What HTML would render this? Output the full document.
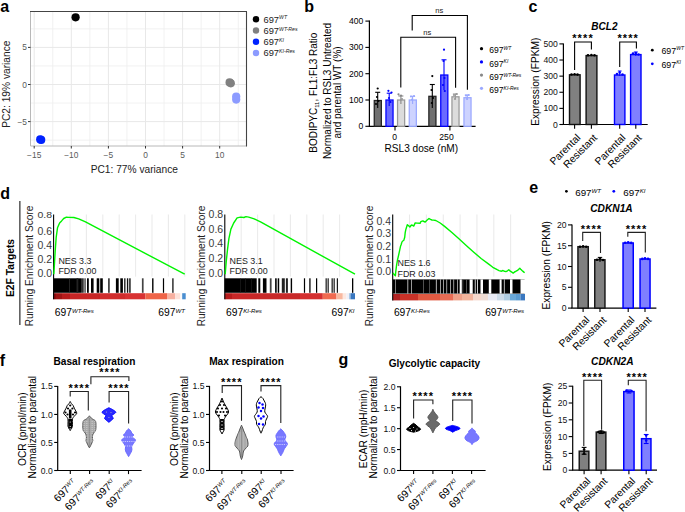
<!DOCTYPE html>
<html><head><meta charset="utf-8"><style>
html,body{margin:0;padding:0;background:#fff;}
body{width:685px;height:512px;overflow:hidden;}
svg{display:block;font-family:"Liberation Sans", sans-serif;}
</style></head><body>
<svg width="685" height="512" viewBox="0 0 685 512">
<text x="0.3" y="11.5" font-size="16" text-anchor="start" font-weight="bold" fill="#000">a</text>
<text x="304.3" y="11.5" font-size="16" text-anchor="start" font-weight="bold" fill="#000">b</text>
<text x="528.5" y="11.5" font-size="16" text-anchor="start" font-weight="bold" fill="#000">c</text>
<text x="0.3" y="198.8" font-size="16" text-anchor="start" font-weight="bold" fill="#000">d</text>
<text x="529.3" y="192.6" font-size="16" text-anchor="start" font-weight="bold" fill="#000">e</text>
<text x="-0.2" y="366.4" font-size="16" text-anchor="start" font-weight="bold" fill="#000">f</text>
<text x="338.5" y="365.2" font-size="16" text-anchor="start" font-weight="bold" fill="#000">g</text>
<line x1="52.75" y1="11.5" x2="52.75" y2="146.0" stroke="#eeeeee" stroke-width="0.8"/>
<line x1="89.85" y1="11.5" x2="89.85" y2="146.0" stroke="#eeeeee" stroke-width="0.8"/>
<line x1="126.95" y1="11.5" x2="126.95" y2="146.0" stroke="#eeeeee" stroke-width="0.8"/>
<line x1="164.05" y1="11.5" x2="164.05" y2="146.0" stroke="#eeeeee" stroke-width="0.8"/>
<line x1="201.15" y1="11.5" x2="201.15" y2="146.0" stroke="#eeeeee" stroke-width="0.8"/>
<line x1="238.25" y1="11.5" x2="238.25" y2="146.0" stroke="#eeeeee" stroke-width="0.8"/>
<line x1="30.5" y1="140.15" x2="246.5" y2="140.15" stroke="#eeeeee" stroke-width="0.8"/>
<line x1="30.5" y1="103.05" x2="246.5" y2="103.05" stroke="#eeeeee" stroke-width="0.8"/>
<line x1="30.5" y1="65.95" x2="246.5" y2="65.95" stroke="#eeeeee" stroke-width="0.8"/>
<line x1="30.5" y1="28.85" x2="246.5" y2="28.85" stroke="#eeeeee" stroke-width="0.8"/>
<line x1="34.2" y1="11.5" x2="34.2" y2="146.0" stroke="#e8e8e8" stroke-width="1"/>
<line x1="71.3" y1="11.5" x2="71.3" y2="146.0" stroke="#e8e8e8" stroke-width="1"/>
<line x1="108.4" y1="11.5" x2="108.4" y2="146.0" stroke="#e8e8e8" stroke-width="1"/>
<line x1="145.5" y1="11.5" x2="145.5" y2="146.0" stroke="#e8e8e8" stroke-width="1"/>
<line x1="182.6" y1="11.5" x2="182.6" y2="146.0" stroke="#e8e8e8" stroke-width="1"/>
<line x1="219.7" y1="11.5" x2="219.7" y2="146.0" stroke="#e8e8e8" stroke-width="1"/>
<line x1="30.5" y1="121.6" x2="246.5" y2="121.6" stroke="#e8e8e8" stroke-width="1"/>
<line x1="30.5" y1="84.5" x2="246.5" y2="84.5" stroke="#e8e8e8" stroke-width="1"/>
<line x1="30.5" y1="47.4" x2="246.5" y2="47.4" stroke="#e8e8e8" stroke-width="1"/>
<line x1="30.5" y1="11.5" x2="30.5" y2="146.0" stroke="#b8b8b8" stroke-width="1"/>
<line x1="30.5" y1="146.0" x2="246.5" y2="146.0" stroke="#b8b8b8" stroke-width="1"/>
<line x1="30.0" y1="11.5" x2="247.0" y2="11.5" stroke="#444" stroke-width="1.1"/>
<line x1="246.5" y1="11.5" x2="246.5" y2="146.5" stroke="#444" stroke-width="1.1"/>
<line x1="34.2" y1="146.0" x2="34.2" y2="148.5" stroke="#333" stroke-width="1"/>
<text x="34.2" y="158.2" font-size="8.4" text-anchor="middle" fill="#5a5a5a">−15</text>
<line x1="71.3" y1="146.0" x2="71.3" y2="148.5" stroke="#333" stroke-width="1"/>
<text x="71.3" y="158.2" font-size="8.4" text-anchor="middle" fill="#5a5a5a">−10</text>
<line x1="108.4" y1="146.0" x2="108.4" y2="148.5" stroke="#333" stroke-width="1"/>
<text x="108.4" y="158.2" font-size="8.4" text-anchor="middle" fill="#5a5a5a">−5</text>
<line x1="145.5" y1="146.0" x2="145.5" y2="148.5" stroke="#333" stroke-width="1"/>
<text x="145.5" y="158.2" font-size="8.4" text-anchor="middle" fill="#5a5a5a">0</text>
<line x1="182.6" y1="146.0" x2="182.6" y2="148.5" stroke="#333" stroke-width="1"/>
<text x="182.6" y="158.2" font-size="8.4" text-anchor="middle" fill="#5a5a5a">5</text>
<line x1="219.7" y1="146.0" x2="219.7" y2="148.5" stroke="#333" stroke-width="1"/>
<text x="219.7" y="158.2" font-size="8.4" text-anchor="middle" fill="#5a5a5a">10</text>
<line x1="28.0" y1="121.6" x2="30.5" y2="121.6" stroke="#333" stroke-width="1"/>
<text x="27.0" y="124.6" font-size="8.4" text-anchor="end" fill="#5a5a5a">−5</text>
<line x1="28.0" y1="84.5" x2="30.5" y2="84.5" stroke="#333" stroke-width="1"/>
<text x="27.0" y="87.5" font-size="8.4" text-anchor="end" fill="#5a5a5a">0</text>
<line x1="28.0" y1="47.4" x2="30.5" y2="47.4" stroke="#333" stroke-width="1"/>
<text x="27.0" y="50.4" font-size="8.4" text-anchor="end" fill="#5a5a5a">5</text>
<text x="134.3" y="172.6" font-size="10.2" text-anchor="middle" fill="#222">PC1: 77% variance</text>
<text x="10.2" y="84.2" font-size="10.2" text-anchor="middle" fill="#222" transform="rotate(-90 10.2 84.2)">PC2: 19% variance</text>
<circle cx="75.6" cy="17.3" r="4.1" fill="#000"/>
<circle cx="229.6" cy="82.4" r="4.1" fill="#808080"/>
<circle cx="230.8" cy="83.3" r="4.1" fill="#808080"/>
<circle cx="40.2" cy="139.4" r="4.1" fill="#0022ff"/>
<circle cx="41.2" cy="139.9" r="4.1" fill="#0022ff"/>
<circle cx="236.2" cy="96.5" r="4.1" fill="#8c9bff"/>
<circle cx="236.2" cy="99.6" r="4.1" fill="#8c9bff"/>
<circle cx="256" cy="19.3" r="3.2" fill="#000"/>
<text x="263.5" y="22.6" font-size="9.3" text-anchor="start" fill="#1a1a1a">697<tspan font-size="5.2" font-style="italic" dy="-3.20">WT</tspan></text>
<circle cx="256" cy="30.55" r="3.2" fill="#808080"/>
<text x="263.5" y="33.85" font-size="9.3" text-anchor="start" fill="#1a1a1a">697<tspan font-size="5.2" font-style="italic" dy="-3.20">WT-Res</tspan></text>
<circle cx="256" cy="41.8" r="3.2" fill="#0022ff"/>
<text x="263.5" y="45.099999999999994" font-size="9.3" text-anchor="start" fill="#1a1a1a">697<tspan font-size="5.2" font-style="italic" dy="-3.20">KI</tspan></text>
<circle cx="256" cy="53.05" r="3.2" fill="#8c9bff"/>
<text x="263.5" y="56.349999999999994" font-size="9.3" text-anchor="start" fill="#1a1a1a">697<tspan font-size="5.2" font-style="italic" dy="-3.20">KI-Res</tspan></text>
<line x1="369.4" y1="20.599999999999994" x2="369.4" y2="126.3" stroke="#000" stroke-width="1.2"/>
<line x1="368.79999999999995" y1="126.3" x2="475.6" y2="126.3" stroke="#000" stroke-width="1.2"/>
<line x1="365.4" y1="126.3" x2="369.4" y2="126.3" stroke="#000" stroke-width="1.1"/>
<text x="363.4" y="129.3" font-size="8.6" text-anchor="end" fill="#000">0</text>
<line x1="365.4" y1="100.0" x2="369.4" y2="100.0" stroke="#000" stroke-width="1.1"/>
<text x="363.4" y="103.0" font-size="8.6" text-anchor="end" fill="#000">100</text>
<line x1="365.4" y1="73.69999999999999" x2="369.4" y2="73.69999999999999" stroke="#000" stroke-width="1.1"/>
<text x="363.4" y="76.69999999999999" font-size="8.6" text-anchor="end" fill="#000">200</text>
<line x1="365.4" y1="47.39999999999999" x2="369.4" y2="47.39999999999999" stroke="#000" stroke-width="1.1"/>
<text x="363.4" y="50.39999999999999" font-size="8.6" text-anchor="end" fill="#000">300</text>
<line x1="365.4" y1="21.099999999999994" x2="369.4" y2="21.099999999999994" stroke="#000" stroke-width="1.1"/>
<text x="363.4" y="24.099999999999994" font-size="8.6" text-anchor="end" fill="#000">400</text>
<line x1="395" y1="126.3" x2="395" y2="130.5" stroke="#000" stroke-width="1.1"/>
<line x1="449.9" y1="126.3" x2="449.9" y2="130.5" stroke="#000" stroke-width="1.1"/>
<text x="394.6" y="139.8" font-size="8.6" text-anchor="middle" fill="#000">0</text>
<text x="446.5" y="139.8" font-size="8.6" text-anchor="middle" fill="#000">250</text>
<text x="421.3" y="152.4" font-size="10.1" text-anchor="middle" fill="#000">RSL3 dose (nM)</text>
<text x="316.9" y="92.7" font-size="10" text-anchor="middle" fill="#000" transform="rotate(-90 316.9 92.7)">BODIPYC<tspan font-size="6" dy="2">11</tspan><tspan dy="-2">, FL1:FL3 Ratio</tspan></text>
<text x="330.7" y="91.0" font-size="10" text-anchor="middle" fill="#000" transform="rotate(-90 330.7 91.0)">Normalized to RSL3 Untreated</text>
<text x="340.7" y="92.4" font-size="10" text-anchor="middle" fill="#000" transform="rotate(-90 340.7 92.4)">and parental WT (%)</text>
<rect x="374.25" y="100.5" width="7.1" height="25.799999999999997" fill="#707070" stroke="#222" stroke-width="1.25"/>
<rect x="385.95" y="100.0" width="7.1" height="26.299999999999997" fill="#6b6bff" stroke="#0000ff" stroke-width="1.25"/>
<rect x="397.55" y="100.0" width="7.1" height="26.299999999999997" fill="#dcdcdc" stroke="#999" stroke-width="1.25"/>
<rect x="409.25" y="100.0" width="7.1" height="26.299999999999997" fill="#cdd3ff" stroke="#9aa8ff" stroke-width="1.25"/>
<rect x="428.85" y="96.3" width="7.1" height="30.0" fill="#707070" stroke="#222" stroke-width="1.25"/>
<rect x="440.75" y="75.0" width="7.1" height="51.3" fill="#6b6bff" stroke="#0000ff" stroke-width="1.25"/>
<rect x="451.95" y="96.8" width="7.1" height="29.5" fill="#dcdcdc" stroke="#999" stroke-width="1.25"/>
<rect x="463.95" y="97.7" width="7.1" height="28.599999999999994" fill="#cdd3ff" stroke="#9aa8ff" stroke-width="1.25"/>
<line x1="377.7" y1="92.3" x2="377.7" y2="108" stroke="#000" stroke-width="1.1"/>
<line x1="375.2" y1="92.3" x2="380.2" y2="92.3" stroke="#000" stroke-width="1.1"/>
<line x1="389.2" y1="93.2" x2="389.2" y2="106" stroke="#0000ff" stroke-width="1.1"/>
<line x1="386.7" y1="93.2" x2="391.7" y2="93.2" stroke="#0000ff" stroke-width="1.1"/>
<line x1="400.9" y1="96.0" x2="400.9" y2="104" stroke="#888" stroke-width="1.1"/>
<line x1="398.4" y1="96.0" x2="403.4" y2="96.0" stroke="#888" stroke-width="1.1"/>
<line x1="412.6" y1="96.3" x2="412.6" y2="104" stroke="#9aa8ff" stroke-width="1.1"/>
<line x1="410.1" y1="96.3" x2="415.1" y2="96.3" stroke="#9aa8ff" stroke-width="1.1"/>
<line x1="432.3" y1="84.5" x2="432.3" y2="108" stroke="#000" stroke-width="1.1"/>
<line x1="429.8" y1="84.5" x2="434.8" y2="84.5" stroke="#000" stroke-width="1.1"/>
<line x1="444.0" y1="59.8" x2="444.0" y2="90" stroke="#0000ff" stroke-width="1.1"/>
<line x1="441.5" y1="59.8" x2="446.5" y2="59.8" stroke="#0000ff" stroke-width="1.1"/>
<line x1="455.4" y1="94.0" x2="455.4" y2="99" stroke="#999" stroke-width="1.1"/>
<line x1="452.9" y1="94.0" x2="457.9" y2="94.0" stroke="#999" stroke-width="1.1"/>
<line x1="467.3" y1="95.0" x2="467.3" y2="100" stroke="#9aa8ff" stroke-width="1.1"/>
<line x1="464.8" y1="95.0" x2="469.8" y2="95.0" stroke="#9aa8ff" stroke-width="1.1"/>
<circle cx="377.7" cy="88.5" r="1.1" fill="#000"/>
<circle cx="377" cy="97" r="1.1" fill="#000"/>
<circle cx="378.5" cy="101" r="1.1" fill="#000"/>
<circle cx="376" cy="104" r="1.1" fill="#000"/>
<circle cx="388.4" cy="90.8" r="1.1" fill="#0000ff"/>
<circle cx="391.5" cy="92.5" r="1.1" fill="#0000ff"/>
<circle cx="389" cy="98" r="1.1" fill="#0000ff"/>
<circle cx="390.5" cy="102" r="1.1" fill="#0000ff"/>
<circle cx="398.5" cy="94.3" r="1.1" fill="#888"/>
<circle cx="401" cy="95.5" r="1.1" fill="#888"/>
<circle cx="402" cy="99" r="1.1" fill="#999"/>
<circle cx="411" cy="96.5" r="1.1" fill="#9aa8ff"/>
<circle cx="414" cy="96" r="1.1" fill="#9aa8ff"/>
<circle cx="412" cy="99.5" r="1.1" fill="#9aa8ff"/>
<circle cx="432.3" cy="76.1" r="1.1" fill="#000"/>
<circle cx="431.5" cy="90" r="1.1" fill="#000"/>
<circle cx="433" cy="98" r="1.1" fill="#000"/>
<circle cx="431.8" cy="103" r="1.1" fill="#000"/>
<circle cx="444.0" cy="49.7" r="1.1" fill="#0000ff"/>
<circle cx="443.5" cy="61" r="1.1" fill="#0000ff"/>
<circle cx="444.5" cy="78" r="1.1" fill="#0000ff"/>
<circle cx="443" cy="85" r="1.1" fill="#0000ff"/>
<circle cx="444.8" cy="91" r="1.1" fill="#0000ff"/>
<circle cx="454" cy="95" r="1.1" fill="#999"/>
<circle cx="456.5" cy="94" r="1.1" fill="#999"/>
<circle cx="455" cy="99" r="1.1" fill="#999"/>
<circle cx="466" cy="95.5" r="1.1" fill="#9aa8ff"/>
<circle cx="468.5" cy="95" r="1.1" fill="#9aa8ff"/>
<circle cx="467" cy="99" r="1.1" fill="#9aa8ff"/>
<path d="M412.2 30.4 V15.5 H467.4 V89.8" stroke="#000" fill="none" stroke-width="1.1"/>
<text x="439.3" y="12.6" font-size="7.6" text-anchor="middle" fill="#222">ns</text>
<path d="M400.8 87.5 V37.3 H455.6 V87.7" stroke="#000" fill="none" stroke-width="1.1"/>
<text x="427.3" y="34.6" font-size="7.6" text-anchor="middle" fill="#222">ns</text>
<circle cx="481.5" cy="48.7" r="1.6" fill="#000"/>
<text x="0" y="0" font-size="9.1" text-anchor="start" fill="#000" transform="translate(489.3 53.300000000000004) scale(0.94 1)">697<tspan font-size="5.3" font-style="italic" dy="-3.20">WT</tspan></text>
<circle cx="481.5" cy="61.900000000000006" r="1.6" fill="#0000ff"/>
<text x="0" y="0" font-size="9.1" text-anchor="start" fill="#000" transform="translate(489.3 66.5) scale(0.94 1)">697<tspan font-size="5.3" font-style="italic" dy="-3.20">KI</tspan></text>
<circle cx="481.5" cy="75.1" r="1.6" fill="#888"/>
<text x="0" y="0" font-size="9.1" text-anchor="start" fill="#000" transform="translate(489.3 79.69999999999999) scale(0.94 1)">697<tspan font-size="5.3" font-style="italic" dy="-3.20">WT-Res</tspan></text>
<circle cx="481.5" cy="88.3" r="1.6" fill="#9aa8ff"/>
<text x="0" y="0" font-size="9.1" text-anchor="start" fill="#000" transform="translate(489.3 92.89999999999999) scale(0.94 1)">697<tspan font-size="5.3" font-style="italic" dy="-3.20">KI-Res</tspan></text>
<line x1="563.4" y1="43.39999999999999" x2="563.4" y2="124.5" stroke="#000" stroke-width="1.2"/>
<line x1="562.8" y1="124.5" x2="647.7" y2="124.5" stroke="#000" stroke-width="1.2"/>
<line x1="559.4" y1="124.5" x2="563.4" y2="124.5" stroke="#000" stroke-width="1.1"/>
<text x="557.9" y="127.5" font-size="8.6" text-anchor="end" fill="#111">0</text>
<line x1="559.4" y1="108.38" x2="563.4" y2="108.38" stroke="#000" stroke-width="1.1"/>
<text x="557.9" y="111.38" font-size="8.6" text-anchor="end" fill="#111">100</text>
<line x1="559.4" y1="92.25999999999999" x2="563.4" y2="92.25999999999999" stroke="#000" stroke-width="1.1"/>
<text x="557.9" y="95.25999999999999" font-size="8.6" text-anchor="end" fill="#111">200</text>
<line x1="559.4" y1="76.14" x2="563.4" y2="76.14" stroke="#000" stroke-width="1.1"/>
<text x="557.9" y="79.14" font-size="8.6" text-anchor="end" fill="#111">300</text>
<line x1="559.4" y1="60.019999999999996" x2="563.4" y2="60.019999999999996" stroke="#000" stroke-width="1.1"/>
<text x="557.9" y="63.019999999999996" font-size="8.6" text-anchor="end" fill="#111">400</text>
<line x1="559.4" y1="43.89999999999999" x2="563.4" y2="43.89999999999999" stroke="#000" stroke-width="1.1"/>
<text x="557.9" y="46.89999999999999" font-size="8.6" text-anchor="end" fill="#111">500</text>
<text x="604.4" y="29.9" font-size="10" text-anchor="middle" font-weight="bold" font-style="italic" fill="#000">BCL2</text>
<text x="538.6" y="81.7" font-size="10.2" text-anchor="middle" fill="#000" transform="rotate(-90 538.6 81.7)">Expression (FPKM)</text>
<rect x="569.5" y="74.8" width="10.6" height="49.7" fill="#808080" stroke="#111" stroke-width="1.4"/>
<rect x="586.1" y="55.6" width="10.800000000000045" height="68.9" fill="#808080" stroke="#111" stroke-width="1.4"/>
<rect x="614.5" y="75.0" width="10.400000000000068" height="49.5" fill="#7f7fff" stroke="#0000ff" stroke-width="1.4"/>
<rect x="630.6" y="54.6" width="10.400000000000068" height="69.9" fill="#7f7fff" stroke="#0000ff" stroke-width="1.4"/>
<line x1="574.6" y1="124.5" x2="574.6" y2="128.8" stroke="#000" stroke-width="1.1"/>
<line x1="591.4" y1="124.5" x2="591.4" y2="128.8" stroke="#000" stroke-width="1.1"/>
<line x1="619.7" y1="124.5" x2="619.7" y2="128.8" stroke="#000" stroke-width="1.1"/>
<line x1="635.8" y1="124.5" x2="635.8" y2="128.8" stroke="#000" stroke-width="1.1"/>
<circle cx="571.5" cy="74.5" r="1.3" fill="#000"/>
<circle cx="574.6" cy="74.2" r="1.3" fill="#000"/>
<circle cx="577.5" cy="74.6" r="1.3" fill="#000"/>
<circle cx="588" cy="55.3" r="1.3" fill="#000"/>
<circle cx="591.4" cy="55" r="1.3" fill="#000"/>
<circle cx="594.5" cy="55.2" r="1.3" fill="#000"/>
<circle cx="617" cy="74" r="1.3" fill="#0000ff"/>
<circle cx="619.7" cy="72.5" r="1.3" fill="#0000ff"/>
<circle cx="622.5" cy="74.5" r="1.3" fill="#0000ff"/>
<circle cx="633" cy="53.5" r="1.3" fill="#0000ff"/>
<circle cx="635.8" cy="53.0" r="1.3" fill="#0000ff"/>
<circle cx="638.5" cy="54.5" r="1.3" fill="#0000ff"/>
<line x1="619.7" y1="71" x2="619.7" y2="76" stroke="#0000ff" stroke-width="1"/>
<line x1="617.8" y1="71" x2="621.6" y2="71" stroke="#0000ff" stroke-width="1"/>
<line x1="635.8" y1="52" x2="635.8" y2="56" stroke="#0000ff" stroke-width="1"/>
<line x1="633.8" y1="52" x2="637.8" y2="52" stroke="#0000ff" stroke-width="1"/>
<path d="M574.6 70 V42 H591.4 V49.5" stroke="#000" fill="none" stroke-width="1.1"/>
<path d="M619.7 67 V42 H636.4 V48.5" stroke="#000" fill="none" stroke-width="1.1"/>
<text x="583.0" y="41.9" font-size="11" text-anchor="middle" fill="#000" letter-spacing="1.1" font-weight="bold">****</text>
<text x="628.2" y="41.9" font-size="11" text-anchor="middle" fill="#000" letter-spacing="1.1" font-weight="bold">****</text>
<circle cx="652.3" cy="50.2" r="1.4" fill="#000"/>
<text x="0" y="0" font-size="9.4" text-anchor="start" fill="#000" transform="translate(661.4 54.1) scale(0.94 1)">697<tspan font-size="5.4" font-style="italic" dy="-3.80">WT</tspan></text>
<circle cx="652.3" cy="63.8" r="1.4" fill="#0000ff"/>
<text x="0" y="0" font-size="9.4" text-anchor="start" fill="#000" transform="translate(661.4 67.7) scale(0.94 1)">697<tspan font-size="5.4" font-style="italic" dy="-3.80">KI</tspan></text>
<text x="581.1" y="138.4" font-size="10.3" text-anchor="end" fill="#000" transform="rotate(-45 581.1 138.4)">Parental</text>
<text x="597.9" y="138.4" font-size="10.3" text-anchor="end" fill="#000" transform="rotate(-45 597.9 138.4)">Resistant</text>
<text x="626.2" y="138.4" font-size="10.3" text-anchor="end" fill="#000" transform="rotate(-45 626.2 138.4)">Parental</text>
<text x="642.3" y="138.4" font-size="10.3" text-anchor="end" fill="#000" transform="rotate(-45 642.3 138.4)">Resistant</text>
<text x="14.2" y="268" font-size="10.3" text-anchor="middle" font-weight="bold" fill="#000" transform="rotate(-90 14.2 268)">E2F Targets</text>
<line x1="19.9" y1="201" x2="19.9" y2="325" stroke="#000" stroke-width="1"/>
<line x1="70.0" y1="214.5" x2="70.0" y2="276.6" stroke="#e3e3e3" stroke-width="0.8"/>
<line x1="86.4" y1="214.5" x2="86.4" y2="276.6" stroke="#e3e3e3" stroke-width="0.8"/>
<line x1="102.8" y1="214.5" x2="102.8" y2="276.6" stroke="#e3e3e3" stroke-width="0.8"/>
<line x1="119.19999999999999" y1="214.5" x2="119.19999999999999" y2="276.6" stroke="#e3e3e3" stroke-width="0.8"/>
<line x1="135.6" y1="214.5" x2="135.6" y2="276.6" stroke="#e3e3e3" stroke-width="0.8"/>
<line x1="152.0" y1="214.5" x2="152.0" y2="276.6" stroke="#e3e3e3" stroke-width="0.8"/>
<line x1="168.39999999999998" y1="214.5" x2="168.39999999999998" y2="276.6" stroke="#e3e3e3" stroke-width="0.8"/>
<line x1="184.79999999999998" y1="214.5" x2="184.79999999999998" y2="276.6" stroke="#e3e3e3" stroke-width="0.8"/>
<rect x="53.4" y="293.2" width="2.6000000000000014" height="6.100000000000023" fill="#8e0c10" stroke="none" stroke-width="1"/>
<rect x="56" y="293.2" width="6" height="6.100000000000023" fill="#a01414" stroke="none" stroke-width="1"/>
<rect x="62" y="293.2" width="8" height="6.100000000000023" fill="#b81c1c" stroke="none" stroke-width="1"/>
<rect x="70" y="293.2" width="30" height="6.100000000000023" fill="#c82626" stroke="none" stroke-width="1"/>
<rect x="100" y="293.2" width="25" height="6.100000000000023" fill="#d02c2c" stroke="none" stroke-width="1"/>
<rect x="125" y="293.2" width="20.400000000000006" height="6.100000000000023" fill="#d83232" stroke="none" stroke-width="1"/>
<rect x="145.4" y="293.2" width="21.599999999999994" height="6.100000000000023" fill="#ef6448" stroke="none" stroke-width="1"/>
<rect x="167" y="293.2" width="8.199999999999989" height="6.100000000000023" fill="#f7b0a0" stroke="none" stroke-width="1"/>
<rect x="175.2" y="293.2" width="5.200000000000017" height="6.100000000000023" fill="#fde0d8" stroke="none" stroke-width="1"/>
<rect x="180.4" y="293.2" width="1.799999999999983" height="6.100000000000023" fill="#fafafa" stroke="none" stroke-width="1"/>
<rect x="182.2" y="293.2" width="3.5" height="6.100000000000023" fill="#4a8ed0" stroke="none" stroke-width="1"/>
<rect x="53.4" y="278.3" width="28.4" height="14.5" fill="#000" stroke="none" stroke-width="1"/>
<rect x="69.2" y="278.3" width="0.7000000000000028" height="14.5" fill="#333" stroke="none" stroke-width="1"/>
<rect x="76.5" y="278.3" width="1.7999999999999972" height="14.5" fill="#222" stroke="none" stroke-width="1"/>
<rect x="82.2" y="278.3" width="1.3999999999999915" height="14.5" fill="#000" stroke="none" stroke-width="1"/>
<rect x="84.4" y="278.3" width="1.2999999999999972" height="14.5" fill="#333" stroke="none" stroke-width="1"/>
<rect x="87" y="278.3" width="1.7999999999999972" height="14.5" fill="#000" stroke="none" stroke-width="1"/>
<rect x="91" y="278.3" width="2.5999999999999943" height="14.5" fill="#000" stroke="none" stroke-width="1"/>
<rect x="96.7" y="278.3" width="2.5999999999999943" height="14.5" fill="#000" stroke="none" stroke-width="1"/>
<rect x="100.2" y="278.3" width="2.5999999999999943" height="14.5" fill="#000" stroke="none" stroke-width="1"/>
<rect x="108" y="278.3" width="1.7999999999999972" height="14.5" fill="#444" stroke="none" stroke-width="1"/>
<rect x="115.9" y="278.3" width="2.799999999999997" height="14.5" fill="#000" stroke="none" stroke-width="1"/>
<rect x="120.3" y="278.3" width="2.6000000000000085" height="14.5" fill="#000" stroke="none" stroke-width="1"/>
<rect x="124.1" y="278.3" width="1.4000000000000057" height="14.5" fill="#222" stroke="none" stroke-width="1"/>
<rect x="126.9" y="278.3" width="1.1999999999999886" height="14.5" fill="#111" stroke="none" stroke-width="1"/>
<rect x="128.8" y="278.3" width="2.0" height="14.5" fill="#444" stroke="none" stroke-width="1"/>
<rect x="141.9" y="278.3" width="1.6999999999999886" height="14.5" fill="#444" stroke="none" stroke-width="1"/>
<rect x="152.1" y="278.3" width="1.4000000000000057" height="14.5" fill="#000" stroke="none" stroke-width="1"/>
<rect x="162.9" y="278.3" width="1.1999999999999886" height="14.5" fill="#000" stroke="none" stroke-width="1"/>
<rect x="172.2" y="278.3" width="1.4000000000000057" height="14.5" fill="#222" stroke="none" stroke-width="1"/>
<line x1="53.6" y1="214.5" x2="53.6" y2="299.3" stroke="#000" stroke-width="1.1"/>
<g transform="translate(0 215.0) scale(1 0.8) translate(0 -215.0)">
<text x="52.0" y="218.75" font-size="10.5" text-anchor="end" fill="#3a3a3a">0.8</text>
</g>
<text x="52.0" y="234.55" font-size="10.5" text-anchor="end" fill="#3a3a3a">0.6</text>
<text x="52.0" y="248.95" font-size="10.5" text-anchor="end" fill="#3a3a3a">0.4</text>
<text x="52.0" y="263.05" font-size="10.5" text-anchor="end" fill="#3a3a3a">0.2</text>
<text x="52.0" y="277.15" font-size="10.5" text-anchor="end" fill="#3a3a3a">0.0</text>
<path d="M53.8 274.2 L54.4 264.7 L55.2 251.0 L56.2 237.3 L57.5 227.8 L59.6 223.0 L61.6 220.9 L63.7 218.5 L66.4 217.2 L69.1 217.4 L73.9 217.5 L78.7 218.9 L85.5 221.9 L184.7 274.2" stroke="#00f400" fill="none" stroke-width="1.4" stroke-linejoin="round"/>
<text x="58.4" y="264.0" font-size="8.9" text-anchor="start" fill="#222">NES 3.3</text>
<text x="58.4" y="274.3" font-size="8.9" text-anchor="start" fill="#222">FDR 0.00</text>
<text x="54.800000000000004" y="316.2" font-size="10.3" text-anchor="start" fill="#000">697<tspan font-size="6.1" font-style="italic" dy="-3.30">WT-Res</tspan></text>
<text x="184.9" y="316.2" font-size="10.3" text-anchor="end" fill="#000">697<tspan font-size="6.1" font-style="italic" dy="-3.30">WT</tspan></text>
<text x="33.4" y="266" font-size="10.1" text-anchor="middle" fill="#222" transform="rotate(-90 33.4 266)">Running Enrichment Score</text>
<line x1="241.20000000000002" y1="214.5" x2="241.20000000000002" y2="276.6" stroke="#e3e3e3" stroke-width="0.8"/>
<line x1="257.6" y1="214.5" x2="257.6" y2="276.6" stroke="#e3e3e3" stroke-width="0.8"/>
<line x1="274.0" y1="214.5" x2="274.0" y2="276.6" stroke="#e3e3e3" stroke-width="0.8"/>
<line x1="290.4" y1="214.5" x2="290.4" y2="276.6" stroke="#e3e3e3" stroke-width="0.8"/>
<line x1="306.8" y1="214.5" x2="306.8" y2="276.6" stroke="#e3e3e3" stroke-width="0.8"/>
<line x1="323.2" y1="214.5" x2="323.2" y2="276.6" stroke="#e3e3e3" stroke-width="0.8"/>
<line x1="339.6" y1="214.5" x2="339.6" y2="276.6" stroke="#e3e3e3" stroke-width="0.8"/>
<rect x="224.6" y="293.2" width="7.400000000000006" height="6.100000000000023" fill="#b81c1c" stroke="none" stroke-width="1"/>
<rect x="232" y="293.2" width="68" height="6.100000000000023" fill="#c82828" stroke="none" stroke-width="1"/>
<rect x="300" y="293.2" width="22.80000000000001" height="6.100000000000023" fill="#d43030" stroke="none" stroke-width="1"/>
<rect x="322.8" y="293.2" width="13.699999999999989" height="6.100000000000023" fill="#f06a50" stroke="none" stroke-width="1"/>
<rect x="336.5" y="293.2" width="6.300000000000011" height="6.100000000000023" fill="#f8b8a0" stroke="none" stroke-width="1"/>
<rect x="342.8" y="293.2" width="3.599999999999966" height="6.100000000000023" fill="#fde8e0" stroke="none" stroke-width="1"/>
<rect x="346.4" y="293.2" width="2.6000000000000227" height="6.100000000000023" fill="#f0f0f8" stroke="none" stroke-width="1"/>
<rect x="349" y="293.2" width="1.5" height="6.100000000000023" fill="#a8c8e8" stroke="none" stroke-width="1"/>
<rect x="350.5" y="293.2" width="4.5" height="6.100000000000023" fill="#3a78c0" stroke="none" stroke-width="1"/>
<rect x="224.6" y="278.3" width="32.099999999999994" height="14.5" fill="#000" stroke="none" stroke-width="1"/>
<rect x="240.1" y="278.3" width="0.5999999999999943" height="14.5" fill="#222" stroke="none" stroke-width="1"/>
<rect x="245.2" y="278.3" width="0.6000000000000227" height="14.5" fill="#222" stroke="none" stroke-width="1"/>
<rect x="251.3" y="278.3" width="0.5999999999999943" height="14.5" fill="#222" stroke="none" stroke-width="1"/>
<rect x="258.3" y="278.3" width="2.0" height="14.5" fill="#000" stroke="none" stroke-width="1"/>
<rect x="262.9" y="278.3" width="3.6000000000000227" height="14.5" fill="#000" stroke="none" stroke-width="1"/>
<rect x="269.8" y="278.3" width="1.8000000000000114" height="14.5" fill="#444" stroke="none" stroke-width="1"/>
<rect x="275.1" y="278.3" width="1.599999999999966" height="14.5" fill="#000" stroke="none" stroke-width="1"/>
<rect x="277.7" y="278.3" width="1.5" height="14.5" fill="#000" stroke="none" stroke-width="1"/>
<rect x="281.8" y="278.3" width="3.0" height="14.5" fill="#222" stroke="none" stroke-width="1"/>
<rect x="285.9" y="278.3" width="2.0" height="14.5" fill="#222" stroke="none" stroke-width="1"/>
<rect x="290.7" y="278.3" width="1.400000000000034" height="14.5" fill="#000" stroke="none" stroke-width="1"/>
<rect x="303.9" y="278.3" width="1.2000000000000455" height="14.5" fill="#000" stroke="none" stroke-width="1"/>
<rect x="309.1" y="278.3" width="1.599999999999966" height="14.5" fill="#333" stroke="none" stroke-width="1"/>
<rect x="316" y="278.3" width="1.1999999999999886" height="14.5" fill="#000" stroke="none" stroke-width="1"/>
<rect x="325.6" y="278.3" width="1.099999999999966" height="14.5" fill="#000" stroke="none" stroke-width="1"/>
<rect x="327.6" y="278.3" width="1.099999999999966" height="14.5" fill="#000" stroke="none" stroke-width="1"/>
<rect x="331.6" y="278.3" width="1.099999999999966" height="14.5" fill="#000" stroke="none" stroke-width="1"/>
<rect x="333.6" y="278.3" width="1.099999999999966" height="14.5" fill="#000" stroke="none" stroke-width="1"/>
<rect x="336.8" y="278.3" width="1.099999999999966" height="14.5" fill="#000" stroke="none" stroke-width="1"/>
<rect x="352" y="278.3" width="1.3000000000000114" height="14.5" fill="#000" stroke="none" stroke-width="1"/>
<line x1="224.8" y1="214.5" x2="224.8" y2="299.3" stroke="#000" stroke-width="1.1"/>
<text x="223.20000000000002" y="217.85" font-size="10.5" text-anchor="end" fill="#3a3a3a">0.8</text>
<text x="223.20000000000002" y="232.55" font-size="10.5" text-anchor="end" fill="#3a3a3a">0.6</text>
<text x="223.20000000000002" y="247.25" font-size="10.5" text-anchor="end" fill="#3a3a3a">0.4</text>
<text x="223.20000000000002" y="261.85" font-size="10.5" text-anchor="end" fill="#3a3a3a">0.2</text>
<text x="223.20000000000002" y="276.55" font-size="10.5" text-anchor="end" fill="#3a3a3a">0.0</text>
<path d="M225.2 274.2 L226.2 261.9 L227.5 249.6 L228.9 238.7 L230.9 229.1 L233.7 223.0 L237.1 217.9 L240.5 217.1 L243.9 217.5 L246.0 216.6 L248.7 217.1 L254.2 218.9 L261.0 222.2 L355.0 274.2" stroke="#00f400" fill="none" stroke-width="1.4" stroke-linejoin="round"/>
<text x="229.60000000000002" y="264.0" font-size="8.9" text-anchor="start" fill="#222">NES 3.1</text>
<text x="229.60000000000002" y="274.3" font-size="8.9" text-anchor="start" fill="#222">FDR 0.00</text>
<text x="226.0" y="316.2" font-size="10.3" text-anchor="start" fill="#000">697<tspan font-size="6.1" font-style="italic" dy="-3.30">KI-Res</tspan></text>
<text x="354.5" y="316.2" font-size="10.3" text-anchor="end" fill="#000">697<tspan font-size="6.1" font-style="italic" dy="-3.30">KI</tspan></text>
<text x="205.3" y="266" font-size="10.1" text-anchor="middle" fill="#222" transform="rotate(-90 205.3 266)">Running Enrichment Score</text>
<line x1="409.55" y1="214.5" x2="409.55" y2="276.6" stroke="#e3e3e3" stroke-width="0.8"/>
<line x1="426.4" y1="214.5" x2="426.4" y2="276.6" stroke="#e3e3e3" stroke-width="0.8"/>
<line x1="443.25" y1="214.5" x2="443.25" y2="276.6" stroke="#e3e3e3" stroke-width="0.8"/>
<line x1="460.1" y1="214.5" x2="460.1" y2="276.6" stroke="#e3e3e3" stroke-width="0.8"/>
<line x1="476.95" y1="214.5" x2="476.95" y2="276.6" stroke="#e3e3e3" stroke-width="0.8"/>
<line x1="493.8" y1="214.5" x2="493.8" y2="276.6" stroke="#e3e3e3" stroke-width="0.8"/>
<line x1="510.65" y1="214.5" x2="510.65" y2="276.6" stroke="#e3e3e3" stroke-width="0.8"/>
<rect x="392.7" y="294.0" width="7.300000000000011" height="6.399999999999977" fill="#b02222" stroke="none" stroke-width="1"/>
<rect x="400" y="294.0" width="18" height="6.399999999999977" fill="#c83228" stroke="none" stroke-width="1"/>
<rect x="418" y="294.0" width="22" height="6.399999999999977" fill="#e05a42" stroke="none" stroke-width="1"/>
<rect x="440" y="294.0" width="13" height="6.399999999999977" fill="#e86d55" stroke="none" stroke-width="1"/>
<rect x="453" y="294.0" width="9" height="6.399999999999977" fill="#eea088" stroke="none" stroke-width="1"/>
<rect x="462" y="294.0" width="11" height="6.399999999999977" fill="#f2b49c" stroke="none" stroke-width="1"/>
<rect x="473" y="294.0" width="8" height="6.399999999999977" fill="#f6d8cc" stroke="none" stroke-width="1"/>
<rect x="481" y="294.0" width="7" height="6.399999999999977" fill="#eedcd4" stroke="none" stroke-width="1"/>
<rect x="488" y="294.0" width="9" height="6.399999999999977" fill="#e8eaf4" stroke="none" stroke-width="1"/>
<rect x="497" y="294.0" width="7" height="6.399999999999977" fill="#cddbe8" stroke="none" stroke-width="1"/>
<rect x="504" y="294.0" width="6" height="6.399999999999977" fill="#b0cce0" stroke="none" stroke-width="1"/>
<rect x="510" y="294.0" width="6" height="6.399999999999977" fill="#6aa8d8" stroke="none" stroke-width="1"/>
<rect x="516" y="294.0" width="4.5" height="6.399999999999977" fill="#5a9ad0" stroke="none" stroke-width="1"/>
<rect x="520.5" y="294.0" width="4.5" height="6.399999999999977" fill="#3a78c0" stroke="none" stroke-width="1"/>
<rect x="392.7" y="279.4" width="131.90000000000003" height="14.200000000000045" fill="#000" stroke="none" stroke-width="1"/>
<rect x="395.0" y="279.4" width="0.5" height="14.200000000000045" fill="#fff" stroke="none" stroke-width="1"/>
<rect x="407.5" y="279.4" width="0.6999999999999886" height="14.200000000000045" fill="#fff" stroke="none" stroke-width="1"/>
<rect x="411.0" y="279.4" width="0.6000000000000227" height="14.200000000000045" fill="#fff" stroke="none" stroke-width="1"/>
<rect x="423.2" y="279.4" width="0.6000000000000227" height="14.200000000000045" fill="#888" stroke="none" stroke-width="1"/>
<rect x="429" y="279.4" width="0.6000000000000227" height="14.200000000000045" fill="#777" stroke="none" stroke-width="1"/>
<rect x="435.9" y="279.4" width="0.7000000000000455" height="14.200000000000045" fill="#fff" stroke="none" stroke-width="1"/>
<rect x="440.2" y="279.4" width="0.6000000000000227" height="14.200000000000045" fill="#fff" stroke="none" stroke-width="1"/>
<rect x="443.0" y="279.4" width="0.6000000000000227" height="14.200000000000045" fill="#fff" stroke="none" stroke-width="1"/>
<rect x="446.5" y="279.4" width="0.6000000000000227" height="14.200000000000045" fill="#fff" stroke="none" stroke-width="1"/>
<rect x="450.0" y="279.4" width="0.6000000000000227" height="14.200000000000045" fill="#fff" stroke="none" stroke-width="1"/>
<rect x="453.5" y="279.4" width="0.6000000000000227" height="14.200000000000045" fill="#fff" stroke="none" stroke-width="1"/>
<rect x="457.0" y="279.4" width="0.6000000000000227" height="14.200000000000045" fill="#fff" stroke="none" stroke-width="1"/>
<rect x="459.7" y="279.4" width="2.1000000000000227" height="14.200000000000045" fill="#fff" stroke="none" stroke-width="1"/>
<rect x="462.5" y="279.4" width="0.6999999999999886" height="14.200000000000045" fill="#666" stroke="none" stroke-width="1"/>
<rect x="466" y="279.4" width="0.6999999999999886" height="14.200000000000045" fill="#777" stroke="none" stroke-width="1"/>
<rect x="469.6" y="279.4" width="3.099999999999966" height="14.200000000000045" fill="#fff" stroke="none" stroke-width="1"/>
<rect x="474.8" y="279.4" width="0.8000000000000114" height="14.200000000000045" fill="#fff" stroke="none" stroke-width="1"/>
<rect x="477.0" y="279.4" width="0.8000000000000114" height="14.200000000000045" fill="#fff" stroke="none" stroke-width="1"/>
<rect x="480.5" y="279.4" width="2.5" height="14.200000000000045" fill="#fff" stroke="none" stroke-width="1"/>
<rect x="488.8" y="279.4" width="2.5" height="14.200000000000045" fill="#fff" stroke="none" stroke-width="1"/>
<rect x="499.6" y="279.4" width="2.0" height="14.200000000000045" fill="#fff" stroke="none" stroke-width="1"/>
<rect x="503.9" y="279.4" width="0.7000000000000455" height="14.200000000000045" fill="#fff" stroke="none" stroke-width="1"/>
<rect x="510.0" y="279.4" width="2.5" height="14.200000000000045" fill="#fff" stroke="none" stroke-width="1"/>
<rect x="520.5" y="279.4" width="4.5" height="14.200000000000045" fill="#fff" stroke="none" stroke-width="1"/>
<line x1="392.7" y1="214.5" x2="392.7" y2="300.4" stroke="#000" stroke-width="1.1"/>
<text x="391.09999999999997" y="225.35" font-size="10.5" text-anchor="end" fill="#3a3a3a">0.4</text>
<text x="391.09999999999997" y="237.35" font-size="10.5" text-anchor="end" fill="#3a3a3a">0.3</text>
<text x="391.09999999999997" y="249.95" font-size="10.5" text-anchor="end" fill="#3a3a3a">0.2</text>
<text x="391.09999999999997" y="262.95" font-size="10.5" text-anchor="end" fill="#3a3a3a">0.1</text>
<text x="391.09999999999997" y="275.25" font-size="10.5" text-anchor="end" fill="#3a3a3a">0.0</text>
<path d="M393.0 272.9 L394.2 274.6 L395.4 275.8 L395.8 271.3 L396.6 265.0 L397.4 260.3 L398.5 255.6 L399.7 250.2 L400.5 246.3 L401.2 244.5 L402.0 241.9 L403.2 240.6 L403.8 240.4 L404.7 237.3 L405.2 232.6 L405.8 229.6 L407.3 224.7 L408.4 225.6 L409.9 227.0 L411.0 225.5 L412.0 225.0 L413.7 226.1 L415.2 222.9 L417.0 223.1 L420.2 223.2 L420.8 221.7 L422.8 220.9 L424.0 221.5 L425.2 222.0 L426.9 220.3 L429.0 218.5 L430.5 219.4 L431.9 220.0 L433.5 220.1 L435.8 220.5 L440.2 223.0 L444.6 226.4 L451.9 232.5 L459.2 239.1 L466.5 245.7 L473.8 252.2 L481.1 258.5 L488.4 263.9 L492.8 267.3 L497.2 269.7 L499.0 270.6 L501.5 271.2 L503.0 270.5 L504.5 271.3 L505.9 271.6 L507.5 270.8 L508.8 269.7 L510.3 271.2 L511.8 272.2 L513.2 273.1 L514.5 272.0 L516.1 271.2 L517.5 270.4 L518.5 269.5 L519.8 268.3 L521.0 269.6 L522.0 270.5 L523.3 271.6 L524.6 272.7" stroke="#00f400" fill="none" stroke-width="1.4" stroke-linejoin="round"/>
<text x="397.5" y="266.4" font-size="8.9" text-anchor="start" fill="#222">NES 1.6</text>
<text x="397.5" y="276.8" font-size="8.9" text-anchor="start" fill="#222">FDR 0.03</text>
<text x="393.9" y="316.2" font-size="10.3" text-anchor="start" fill="#000">697<tspan font-size="6.1" font-style="italic" dy="-3.30">KI-Res</tspan></text>
<text x="524.1" y="316.2" font-size="10.3" text-anchor="end" fill="#000">697<tspan font-size="6.1" font-style="italic" dy="-3.30">WT-Res</tspan></text>
<text x="373.2" y="266" font-size="10.1" text-anchor="middle" fill="#222" transform="rotate(-90 373.2 266)">Running Enrichment Score</text>
<circle cx="566.4" cy="191.3" r="1.4" fill="#000"/>
<text x="575.2" y="196.1" font-size="9.8" text-anchor="start" fill="#000">697<tspan font-size="6.1" font-style="italic" dy="-3.50">WT</tspan></text>
<circle cx="613.8" cy="191.3" r="1.4" fill="#0000ff"/>
<text x="623.3" y="196.1" font-size="9.8" text-anchor="start" fill="#000">697<tspan font-size="6.1" font-style="italic" dy="-3.50">KI</tspan></text>
<text x="611.5" y="211.7" font-size="10.2" text-anchor="middle" font-weight="bold" font-style="italic" fill="#000">CDKN1A</text>
<line x1="572.0" y1="224.40000000000003" x2="572.0" y2="308.1" stroke="#000" stroke-width="1.2"/>
<line x1="571.4" y1="308.1" x2="656.4" y2="308.1" stroke="#000" stroke-width="1.2"/>
<line x1="568.0" y1="308.1" x2="572.0" y2="308.1" stroke="#000" stroke-width="1.1"/>
<text x="566.5" y="311.20000000000005" font-size="8.6" text-anchor="end" fill="#111">0</text>
<line x1="568.0" y1="287.3" x2="572.0" y2="287.3" stroke="#000" stroke-width="1.1"/>
<text x="566.5" y="290.40000000000003" font-size="8.6" text-anchor="end" fill="#111">5</text>
<line x1="568.0" y1="266.5" x2="572.0" y2="266.5" stroke="#000" stroke-width="1.1"/>
<text x="566.5" y="269.6" font-size="8.6" text-anchor="end" fill="#111">10</text>
<line x1="568.0" y1="245.70000000000002" x2="572.0" y2="245.70000000000002" stroke="#000" stroke-width="1.1"/>
<text x="566.5" y="248.8" font-size="8.6" text-anchor="end" fill="#111">15</text>
<line x1="568.0" y1="224.90000000000003" x2="572.0" y2="224.90000000000003" stroke="#000" stroke-width="1.1"/>
<text x="566.5" y="228.00000000000003" font-size="8.6" text-anchor="end" fill="#111">20</text>
<rect x="577.95" y="246.7" width="10.299999999999955" height="61.400000000000034" fill="#808080" stroke="#1a1a1a" stroke-width="1.5"/>
<rect x="594.75" y="259.8" width="10.200000000000045" height="48.30000000000001" fill="#808080" stroke="#1a1a1a" stroke-width="1.5"/>
<rect x="623.05" y="243.0" width="10.200000000000045" height="65.10000000000002" fill="#7f7fff" stroke="#0000ff" stroke-width="1.5"/>
<rect x="640.05" y="259.0" width="10.0" height="49.10000000000002" fill="#7f7fff" stroke="#0000ff" stroke-width="1.5"/>
<line x1="583.1" y1="308.1" x2="583.1" y2="312.1" stroke="#000" stroke-width="1.1"/>
<line x1="600.0" y1="308.1" x2="600.0" y2="312.1" stroke="#000" stroke-width="1.1"/>
<line x1="628.2" y1="308.1" x2="628.2" y2="312.1" stroke="#000" stroke-width="1.1"/>
<line x1="645.0" y1="308.1" x2="645.0" y2="312.1" stroke="#000" stroke-width="1.1"/>
<circle cx="580" cy="246.8" r="1.3" fill="#000"/>
<circle cx="583.1" cy="246.4" r="1.3" fill="#000"/>
<circle cx="586.2" cy="246.8" r="1.3" fill="#000"/>
<circle cx="597" cy="259.8" r="1.3" fill="#000"/>
<circle cx="600" cy="258.4" r="1.3" fill="#000"/>
<circle cx="603" cy="260" r="1.3" fill="#000"/>
<circle cx="625.2" cy="242.7" r="1.3" fill="#0000ff"/>
<circle cx="628.2" cy="242.2" r="1.3" fill="#0000ff"/>
<circle cx="631.2" cy="242.9" r="1.3" fill="#0000ff"/>
<circle cx="642.3" cy="258.9" r="1.3" fill="#0000ff"/>
<circle cx="645" cy="258.4" r="1.3" fill="#0000ff"/>
<circle cx="648" cy="258.9" r="1.3" fill="#0000ff"/>
<line x1="600" y1="257.4" x2="600" y2="262" stroke="#000" stroke-width="1"/>
<line x1="597.8" y1="257.4" x2="602.2" y2="257.4" stroke="#000" stroke-width="1"/>
<path d="M582.7 241 V232.4 H600.5 V252.9" stroke="#222" fill="none" stroke-width="1.1"/>
<path d="M627.8 236.8 V232.4 H645.3 V252.6" stroke="#222" fill="none" stroke-width="1.1"/>
<text x="591.4" y="232.5" font-size="11" text-anchor="middle" fill="#000" letter-spacing="1.1" font-weight="bold">****</text>
<text x="636.5" y="232.5" font-size="11" text-anchor="middle" fill="#000" letter-spacing="1.1" font-weight="bold">****</text>
<text x="550.5" y="265.3" font-size="10.2" text-anchor="middle" fill="#000" transform="rotate(-90 550.5 265.3)">Expression (FPKM)</text>
<text x="590.1" y="320.7" font-size="10.3" text-anchor="end" fill="#000" transform="rotate(-45 590.1 320.7)">Parental</text>
<text x="607.0" y="320.7" font-size="10.3" text-anchor="end" fill="#000" transform="rotate(-45 607.0 320.7)">Resistant</text>
<text x="635.2" y="320.7" font-size="10.3" text-anchor="end" fill="#000" transform="rotate(-45 635.2 320.7)">Parental</text>
<text x="652.0" y="320.7" font-size="10.3" text-anchor="end" fill="#000" transform="rotate(-45 652.0 320.7)">Resistant</text>
<text x="612.3" y="365.0" font-size="10.2" text-anchor="middle" font-weight="bold" font-style="italic" fill="#000">CDKN2A</text>
<line x1="572.7" y1="385.7" x2="572.7" y2="470.2" stroke="#000" stroke-width="1.2"/>
<line x1="572.1" y1="470.2" x2="657.0" y2="470.2" stroke="#000" stroke-width="1.2"/>
<line x1="568.7" y1="470.2" x2="572.7" y2="470.2" stroke="#000" stroke-width="1.1"/>
<text x="567.2" y="473.3" font-size="8.6" text-anchor="end" fill="#111">0</text>
<line x1="568.7" y1="453.4" x2="572.7" y2="453.4" stroke="#000" stroke-width="1.1"/>
<text x="567.2" y="456.5" font-size="8.6" text-anchor="end" fill="#111">5</text>
<line x1="568.7" y1="436.59999999999997" x2="572.7" y2="436.59999999999997" stroke="#000" stroke-width="1.1"/>
<text x="567.2" y="439.7" font-size="8.6" text-anchor="end" fill="#111">10</text>
<line x1="568.7" y1="419.8" x2="572.7" y2="419.8" stroke="#000" stroke-width="1.1"/>
<text x="567.2" y="422.90000000000003" font-size="8.6" text-anchor="end" fill="#111">15</text>
<line x1="568.7" y1="403.0" x2="572.7" y2="403.0" stroke="#000" stroke-width="1.1"/>
<text x="567.2" y="406.1" font-size="8.6" text-anchor="end" fill="#111">20</text>
<line x1="568.7" y1="386.2" x2="572.7" y2="386.2" stroke="#000" stroke-width="1.1"/>
<text x="567.2" y="389.3" font-size="8.6" text-anchor="end" fill="#111">25</text>
<rect x="579.25" y="451.2" width="9.600000000000023" height="19.0" fill="#808080" stroke="#1a1a1a" stroke-width="1.5"/>
<rect x="596.25" y="432.1" width="9.600000000000023" height="38.099999999999966" fill="#808080" stroke="#1a1a1a" stroke-width="1.5"/>
<rect x="623.75" y="391.6" width="10.299999999999955" height="78.59999999999997" fill="#7f7fff" stroke="#0000ff" stroke-width="1.5"/>
<rect x="641.55" y="438.7" width="9.400000000000091" height="31.5" fill="#7f7fff" stroke="#0000ff" stroke-width="1.5"/>
<line x1="584.1" y1="470.2" x2="584.1" y2="474.2" stroke="#000" stroke-width="1.1"/>
<line x1="601.1" y1="470.2" x2="601.1" y2="474.2" stroke="#000" stroke-width="1.1"/>
<line x1="628.9" y1="470.2" x2="628.9" y2="474.2" stroke="#000" stroke-width="1.1"/>
<line x1="646.2" y1="470.2" x2="646.2" y2="474.2" stroke="#000" stroke-width="1.1"/>
<line x1="584.1" y1="447.4" x2="584.1" y2="454.3" stroke="#000" stroke-width="1.1"/>
<line x1="581.7" y1="447.4" x2="586.5" y2="447.4" stroke="#000" stroke-width="1.1"/>
<line x1="581.7" y1="454.3" x2="586.5" y2="454.3" stroke="#000" stroke-width="1.1"/>
<line x1="601.1" y1="431.0" x2="601.1" y2="433.5" stroke="#000" stroke-width="1.1"/>
<line x1="598.7" y1="431.0" x2="603.5" y2="431.0" stroke="#000" stroke-width="1.1"/>
<line x1="598.7" y1="433.5" x2="603.5" y2="433.5" stroke="#000" stroke-width="1.1"/>
<line x1="628.9" y1="390.0" x2="628.9" y2="393.0" stroke="#0000ff" stroke-width="1.1"/>
<line x1="626.5" y1="390.0" x2="631.3" y2="390.0" stroke="#0000ff" stroke-width="1.1"/>
<line x1="626.5" y1="393.0" x2="631.3" y2="393.0" stroke="#0000ff" stroke-width="1.1"/>
<line x1="646.2" y1="434.5" x2="646.2" y2="443.5" stroke="#0000ff" stroke-width="1.1"/>
<line x1="643.8000000000001" y1="434.5" x2="648.6" y2="434.5" stroke="#0000ff" stroke-width="1.1"/>
<line x1="643.8000000000001" y1="443.5" x2="648.6" y2="443.5" stroke="#0000ff" stroke-width="1.1"/>
<circle cx="584.1" cy="449.5" r="1.3" fill="#000"/>
<circle cx="584.1" cy="453.5" r="1.3" fill="#000"/>
<circle cx="598.5" cy="432" r="1.3" fill="#000"/>
<circle cx="601.1" cy="431.5" r="1.3" fill="#000"/>
<circle cx="603.8" cy="432.5" r="1.3" fill="#000"/>
<circle cx="626.5" cy="390.5" r="1.3" fill="#0000ff"/>
<circle cx="631.5" cy="391" r="1.3" fill="#0000ff"/>
<circle cx="646.2" cy="435.5" r="1.3" fill="#0000ff"/>
<circle cx="646.2" cy="440.5" r="1.3" fill="#0000ff"/>
<path d="M583.8 446 V380.2 H601.6 V429.8" stroke="#222" fill="none" stroke-width="1.1"/>
<path d="M628.3 385.2 V380.2 H646.1 V431.2" stroke="#222" fill="none" stroke-width="1.1"/>
<text x="592.7" y="380.5" font-size="11" text-anchor="middle" fill="#000" letter-spacing="1.1" font-weight="bold">****</text>
<text x="637.2" y="380.5" font-size="11" text-anchor="middle" fill="#000" letter-spacing="1.1" font-weight="bold">****</text>
<text x="551.0" y="426.8" font-size="10.2" text-anchor="middle" fill="#000" transform="rotate(-90 551.0 426.8)">Expression (FPKM)</text>
<text x="591.1" y="481.8" font-size="10.3" text-anchor="end" fill="#000" transform="rotate(-45 591.1 481.8)">Parental</text>
<text x="608.1" y="481.8" font-size="10.3" text-anchor="end" fill="#000" transform="rotate(-45 608.1 481.8)">Resistant</text>
<text x="635.9" y="481.8" font-size="10.3" text-anchor="end" fill="#000" transform="rotate(-45 635.9 481.8)">Parental</text>
<text x="653.2" y="481.8" font-size="10.3" text-anchor="end" fill="#000" transform="rotate(-45 653.2 481.8)">Resistant</text>
<text x="94.5" y="364.8" font-size="10.1" text-anchor="middle" font-weight="bold" fill="#000">Basal respiration</text>
<line x1="57.7" y1="385.895" x2="57.7" y2="470.5" stroke="#000" stroke-width="1.2"/>
<line x1="57.1" y1="470.5" x2="141.6" y2="470.5" stroke="#000" stroke-width="1.2"/>
<line x1="54.2" y1="470.5" x2="57.7" y2="470.5" stroke="#000" stroke-width="1.1"/>
<text x="52.7" y="473.6" font-size="8.6" text-anchor="end" fill="#111">0.0</text>
<line x1="54.2" y1="442.465" x2="57.7" y2="442.465" stroke="#000" stroke-width="1.1"/>
<text x="52.7" y="445.565" font-size="8.6" text-anchor="end" fill="#111">0.5</text>
<line x1="54.2" y1="414.43" x2="57.7" y2="414.43" stroke="#000" stroke-width="1.1"/>
<text x="52.7" y="417.53000000000003" font-size="8.6" text-anchor="end" fill="#111">1.0</text>
<line x1="54.2" y1="386.395" x2="57.7" y2="386.395" stroke="#000" stroke-width="1.1"/>
<text x="52.7" y="389.495" font-size="8.6" text-anchor="end" fill="#111">1.5</text>
<line x1="70.3" y1="470.5" x2="70.3" y2="474.1" stroke="#000" stroke-width="1.1"/>
<line x1="89.6" y1="470.5" x2="89.6" y2="474.1" stroke="#000" stroke-width="1.1"/>
<line x1="109.2" y1="470.5" x2="109.2" y2="474.1" stroke="#000" stroke-width="1.1"/>
<line x1="128.5" y1="470.5" x2="128.5" y2="474.1" stroke="#000" stroke-width="1.1"/>
<text x="26.1" y="429.2" font-size="10.2" text-anchor="middle" fill="#000" transform="rotate(-90 26.1 429.2)">OCR (pmol/min)</text>
<text x="35.8" y="427.2" font-size="10.2" text-anchor="middle" fill="#000" transform="rotate(-90 35.8 427.2)">Normalized to parental</text>
<path d="M70.20 401.50 C70.40 401.85 70.90 402.92 71.40 403.60 C71.90 404.28 72.72 404.83 73.20 405.60 C73.68 406.37 73.87 407.30 74.30 408.20 C74.73 409.10 75.38 410.17 75.80 411.00 C76.22 411.83 76.87 412.53 76.80 413.20 C76.73 413.87 75.87 414.45 75.40 415.00 C74.93 415.55 74.45 415.95 74.00 416.50 C73.55 417.05 72.97 417.72 72.70 418.30 C72.43 418.88 72.45 419.22 72.40 420.00 C72.35 420.78 72.40 421.93 72.40 423.00 C72.40 424.07 72.58 425.48 72.40 426.40 C72.22 427.32 71.67 427.80 71.30 428.50 C70.93 429.20 70.38 430.25 70.20 430.60 C70.02 430.25 69.47 429.20 69.10 428.50 C68.73 427.80 68.18 427.32 68.00 426.40 C67.82 425.48 68.00 424.07 68.00 423.00 C68.00 421.93 68.05 420.78 68.00 420.00 C67.95 419.22 67.97 418.88 67.70 418.30 C67.43 417.72 66.85 417.05 66.40 416.50 C65.95 415.95 65.47 415.55 65.00 415.00 C64.53 414.45 63.67 413.87 63.60 413.20 C63.53 412.53 64.18 411.83 64.60 411.00 C65.02 410.17 65.67 409.10 66.10 408.20 C66.53 407.30 66.72 406.37 67.20 405.60 C67.68 404.83 68.50 404.28 69.00 403.60 C69.50 402.92 70.00 401.85 70.20 401.50 Z" stroke="#000" fill="#fff" stroke-width="1.0" stroke-linejoin="round"/>
<rect x="68.9" y="409.5" width="2.6" height="9" fill="#000" stroke="none" stroke-width="1"/>
<rect x="68.3" y="419" width="3.8" height="9.5" fill="#000" stroke="none" stroke-width="1"/>
<circle cx="70.2" cy="405.5" r="1.1" fill="#000"/>
<circle cx="68" cy="408.5" r="1.1" fill="#000"/>
<circle cx="72.4" cy="408.5" r="1.1" fill="#000"/>
<circle cx="65.5" cy="412.5" r="1.1" fill="#000"/>
<circle cx="75" cy="412.5" r="1.1" fill="#000"/>
<circle cx="67.5" cy="414.5" r="1.1" fill="#000"/>
<circle cx="73" cy="414.5" r="1.1" fill="#000"/>
<circle cx="70.2" cy="421.5" r="1.1" fill="#000"/>
<circle cx="70.2" cy="425.5" r="1.1" fill="#000"/>
<circle cx="70.2" cy="422" r="0.6" fill="#fff"/>
<circle cx="70.2" cy="426.5" r="0.6" fill="#fff"/>
<path d="M89.40 415.80 C89.60 416.05 90.13 416.80 90.60 417.30 C91.07 417.80 91.53 418.32 92.20 418.80 C92.87 419.28 94.03 419.77 94.60 420.20 C95.17 420.63 95.37 420.70 95.60 421.40 C95.83 422.10 95.97 423.05 96.00 424.40 C96.03 425.75 95.98 428.32 95.80 429.50 C95.62 430.68 95.27 430.92 94.90 431.50 C94.53 432.08 93.97 432.42 93.60 433.00 C93.23 433.58 92.90 434.17 92.70 435.00 C92.50 435.83 92.38 437.08 92.40 438.00 C92.42 438.92 92.87 439.72 92.80 440.50 C92.73 441.28 92.37 441.83 92.00 442.70 C91.63 443.57 91.03 444.85 90.60 445.70 C90.17 446.55 89.60 447.45 89.40 447.80 C89.20 447.45 88.63 446.55 88.20 445.70 C87.77 444.85 87.17 443.57 86.80 442.70 C86.43 441.83 86.07 441.28 86.00 440.50 C85.93 439.72 86.38 438.92 86.40 438.00 C86.42 437.08 86.30 435.83 86.10 435.00 C85.90 434.17 85.57 433.58 85.20 433.00 C84.83 432.42 84.27 432.08 83.90 431.50 C83.53 430.92 83.18 430.68 83.00 429.50 C82.82 428.32 82.77 425.75 82.80 424.40 C82.83 423.05 82.97 422.10 83.20 421.40 C83.43 420.70 83.63 420.63 84.20 420.20 C84.77 419.77 85.93 419.28 86.60 418.80 C87.27 418.32 87.73 417.80 88.20 417.30 C88.67 416.80 89.20 416.05 89.40 415.80 Z" stroke="#555" fill="#aaaaaa" stroke-width="1.0" stroke-linejoin="round"/>
<line x1="83.5" y1="421.5" x2="95.3" y2="421.5" stroke="#e8e8e8" stroke-width="0.5" stroke-dasharray="1.2 1.5"/>
<line x1="83.5" y1="423.5" x2="95.3" y2="423.5" stroke="#e8e8e8" stroke-width="0.5" stroke-dasharray="1.2 1.5"/>
<line x1="83.5" y1="425.5" x2="95.3" y2="425.5" stroke="#e8e8e8" stroke-width="0.5" stroke-dasharray="1.2 1.5"/>
<line x1="83.5" y1="427.5" x2="95.3" y2="427.5" stroke="#e8e8e8" stroke-width="0.5" stroke-dasharray="1.2 1.5"/>
<line x1="83.5" y1="429.5" x2="95.3" y2="429.5" stroke="#e8e8e8" stroke-width="0.5" stroke-dasharray="1.2 1.5"/>
<line x1="83.5" y1="431.5" x2="95.3" y2="431.5" stroke="#e8e8e8" stroke-width="0.5" stroke-dasharray="1.2 1.5"/>
<line x1="83.5" y1="433.5" x2="95.3" y2="433.5" stroke="#e8e8e8" stroke-width="0.5" stroke-dasharray="1.2 1.5"/>
<line x1="83.5" y1="436" x2="95.3" y2="436" stroke="#e8e8e8" stroke-width="0.5" stroke-dasharray="1.2 1.5"/>
<line x1="83.5" y1="438.5" x2="95.3" y2="438.5" stroke="#e8e8e8" stroke-width="0.5" stroke-dasharray="1.2 1.5"/>
<line x1="83.5" y1="441" x2="95.3" y2="441" stroke="#e8e8e8" stroke-width="0.5" stroke-dasharray="1.2 1.5"/>
<line x1="89.4" y1="418" x2="89.4" y2="446" stroke="#888" stroke-width="0.8"/>
<path d="M108.90 407.70 C109.48 408.00 111.25 408.77 112.40 409.50 C113.55 410.23 115.55 411.35 115.80 412.10 C116.05 412.85 114.55 413.47 113.90 414.00 C113.25 414.53 112.13 414.80 111.90 415.30 C111.67 415.80 112.28 416.47 112.50 417.00 C112.72 417.53 113.38 417.95 113.20 418.50 C113.02 419.05 112.12 419.67 111.40 420.30 C110.68 420.93 109.32 421.97 108.90 422.30 C108.48 421.97 107.12 420.93 106.40 420.30 C105.68 419.67 104.78 419.05 104.60 418.50 C104.42 417.95 105.08 417.53 105.30 417.00 C105.52 416.47 106.13 415.80 105.90 415.30 C105.67 414.80 104.55 414.53 103.90 414.00 C103.25 413.47 101.75 412.85 102.00 412.10 C102.25 411.35 104.25 410.23 105.40 409.50 C106.55 408.77 108.32 408.00 108.90 407.70 Z" stroke="#0000ff" fill="#2a2aff" stroke-width="1.0" stroke-linejoin="round"/>
<circle cx="106.5" cy="412" r="0.6" fill="#aab"/>
<circle cx="111" cy="412.5" r="0.6" fill="#aab"/>
<circle cx="108.9" cy="417.5" r="0.6" fill="#aab"/>
<path d="M128.60 428.70 C128.97 429.08 130.27 430.27 130.80 431.00 C131.33 431.73 131.30 432.43 131.80 433.10 C132.30 433.77 133.73 434.37 133.80 435.00 C133.87 435.63 132.15 436.32 132.20 436.90 C132.25 437.48 133.53 437.97 134.10 438.50 C134.67 439.03 135.60 439.43 135.60 440.10 C135.60 440.77 134.63 441.68 134.10 442.50 C133.57 443.32 132.82 444.25 132.40 445.00 C131.98 445.75 131.68 446.33 131.60 447.00 C131.52 447.67 131.90 448.35 131.90 449.00 C131.90 449.65 131.85 450.15 131.60 450.90 C131.35 451.65 130.90 452.55 130.40 453.50 C129.90 454.45 128.90 456.08 128.60 456.60 C128.30 456.08 127.30 454.45 126.80 453.50 C126.30 452.55 125.85 451.65 125.60 450.90 C125.35 450.15 125.30 449.65 125.30 449.00 C125.30 448.35 125.68 447.67 125.60 447.00 C125.52 446.33 125.22 445.75 124.80 445.00 C124.38 444.25 123.63 443.32 123.10 442.50 C122.57 441.68 121.60 440.77 121.60 440.10 C121.60 439.43 122.53 439.03 123.10 438.50 C123.67 437.97 124.95 437.48 125.00 436.90 C125.05 436.32 123.33 435.63 123.40 435.00 C123.47 434.37 124.90 433.77 125.40 433.10 C125.90 432.43 125.87 431.73 126.40 431.00 C126.93 430.27 128.23 429.08 128.60 428.70 Z" stroke="#6a6aff" fill="#7878ff" stroke-width="1.0" stroke-linejoin="round"/>
<line x1="122.5" y1="437" x2="134.5" y2="437" stroke="#fff" stroke-width="0.6" stroke-dasharray="1.2 1"/>
<line x1="122.5" y1="441.5" x2="134.5" y2="441.5" stroke="#fff" stroke-width="0.6" stroke-dasharray="1.2 1"/>
<line x1="122.5" y1="446" x2="134.5" y2="446" stroke="#fff" stroke-width="0.6" stroke-dasharray="1.2 1"/>
<path d="M90.9 384.3 V376.7 H128.9 V381" stroke="#222" fill="none" stroke-width="1.1"/>
<path d="M70.2 396.4 V391.5 H88.3 V410.5" stroke="#222" fill="none" stroke-width="1.1"/>
<path d="M109.1 402.6 V391.5 H128.6 V423.6" stroke="#222" fill="none" stroke-width="1.1"/>
<text x="109.9" y="376.1" font-size="11" text-anchor="middle" fill="#000" letter-spacing="1.1" font-weight="bold">****</text>
<text x="79.3" y="391.8" font-size="11" text-anchor="middle" fill="#000" letter-spacing="1.1" font-weight="bold">****</text>
<text x="118.9" y="391.8" font-size="11" text-anchor="middle" fill="#000" letter-spacing="1.1" font-weight="bold">****</text>
<text x="76.9" y="483.6" font-size="10.5" text-anchor="end" transform="rotate(-45 76.9 483.6)">697<tspan font-size="5.9" font-style="italic" dy="-3.7">WT</tspan></text>
<text x="96.2" y="483.6" font-size="10.5" text-anchor="end" transform="rotate(-45 96.2 483.6)">697<tspan font-size="5.9" font-style="italic" dy="-3.7">WT-Res</tspan></text>
<text x="115.8" y="483.6" font-size="10.5" text-anchor="end" transform="rotate(-45 115.8 483.6)">697<tspan font-size="5.9" font-style="italic" dy="-3.7">KI</tspan></text>
<text x="135.1" y="483.6" font-size="10.5" text-anchor="end" transform="rotate(-45 135.1 483.6)">697<tspan font-size="5.9" font-style="italic" dy="-3.7">KI-Res</tspan></text>
<text x="246.5" y="365.3" font-size="10.1" text-anchor="middle" font-weight="bold" fill="#000">Max respiration</text>
<line x1="209.5" y1="385.895" x2="209.5" y2="470.5" stroke="#000" stroke-width="1.2"/>
<line x1="208.9" y1="470.5" x2="293.6" y2="470.5" stroke="#000" stroke-width="1.2"/>
<line x1="206.0" y1="470.5" x2="209.5" y2="470.5" stroke="#000" stroke-width="1.1"/>
<text x="204.5" y="473.6" font-size="8.6" text-anchor="end" fill="#111">0.0</text>
<line x1="206.0" y1="442.465" x2="209.5" y2="442.465" stroke="#000" stroke-width="1.1"/>
<text x="204.5" y="445.565" font-size="8.6" text-anchor="end" fill="#111">0.5</text>
<line x1="206.0" y1="414.43" x2="209.5" y2="414.43" stroke="#000" stroke-width="1.1"/>
<text x="204.5" y="417.53000000000003" font-size="8.6" text-anchor="end" fill="#111">1.0</text>
<line x1="206.0" y1="386.395" x2="209.5" y2="386.395" stroke="#000" stroke-width="1.1"/>
<text x="204.5" y="389.495" font-size="8.6" text-anchor="end" fill="#111">1.5</text>
<line x1="221.9" y1="470.5" x2="221.9" y2="474.1" stroke="#000" stroke-width="1.1"/>
<line x1="241.8" y1="470.5" x2="241.8" y2="474.1" stroke="#000" stroke-width="1.1"/>
<line x1="261.2" y1="470.5" x2="261.2" y2="474.1" stroke="#000" stroke-width="1.1"/>
<line x1="281.0" y1="470.5" x2="281.0" y2="474.1" stroke="#000" stroke-width="1.1"/>
<text x="178.1" y="429.2" font-size="10.2" text-anchor="middle" fill="#000" transform="rotate(-90 178.1 429.2)">OCR (pmol/min)</text>
<text x="187.8" y="427.2" font-size="10.2" text-anchor="middle" fill="#000" transform="rotate(-90 187.8 427.2)">Normalized to parental</text>
<path d="M222.00 398.00 C222.13 398.33 222.53 399.33 222.80 400.00 C223.07 400.67 223.23 401.23 223.60 402.00 C223.97 402.77 224.43 403.60 225.00 404.60 C225.57 405.60 226.50 407.10 227.00 408.00 C227.50 408.90 227.73 409.33 228.00 410.00 C228.27 410.67 228.67 411.33 228.60 412.00 C228.53 412.67 228.03 413.33 227.60 414.00 C227.17 414.67 226.52 415.23 226.00 416.00 C225.48 416.77 224.82 417.93 224.50 418.60 C224.18 419.27 224.17 418.93 224.10 420.00 C224.03 421.07 224.10 423.35 224.10 425.00 C224.10 426.65 224.28 428.73 224.10 429.90 C223.92 431.07 223.35 431.32 223.00 432.00 C222.65 432.68 222.17 433.67 222.00 434.00 C221.83 433.67 221.35 432.68 221.00 432.00 C220.65 431.32 220.08 431.07 219.90 429.90 C219.72 428.73 219.90 426.65 219.90 425.00 C219.90 423.35 219.97 421.07 219.90 420.00 C219.83 418.93 219.82 419.27 219.50 418.60 C219.18 417.93 218.52 416.77 218.00 416.00 C217.48 415.23 216.83 414.67 216.40 414.00 C215.97 413.33 215.47 412.67 215.40 412.00 C215.33 411.33 215.73 410.67 216.00 410.00 C216.27 409.33 216.50 408.90 217.00 408.00 C217.50 407.10 218.43 405.60 219.00 404.60 C219.57 403.60 220.03 402.77 220.40 402.00 C220.77 401.23 220.93 400.67 221.20 400.00 C221.47 399.33 221.87 398.33 222.00 398.00 Z" stroke="#000" fill="#fff" stroke-width="1.0" stroke-linejoin="round"/>
<circle cx="222" cy="401.5" r="1.05" fill="#000"/>
<circle cx="220" cy="405" r="1.05" fill="#000"/>
<circle cx="224" cy="405" r="1.05" fill="#000"/>
<circle cx="218" cy="408.5" r="1.05" fill="#000"/>
<circle cx="222" cy="408.5" r="1.05" fill="#000"/>
<circle cx="226" cy="408.5" r="1.05" fill="#000"/>
<circle cx="217" cy="412" r="1.05" fill="#000"/>
<circle cx="220.5" cy="412" r="1.05" fill="#000"/>
<circle cx="223.5" cy="412" r="1.05" fill="#000"/>
<circle cx="227" cy="412" r="1.05" fill="#000"/>
<circle cx="219" cy="415.5" r="1.05" fill="#000"/>
<circle cx="225" cy="415.5" r="1.05" fill="#000"/>
<rect x="220.1" y="419" width="3.8" height="11" fill="#000" stroke="none" stroke-width="1"/>
<circle cx="222" cy="421.5" r="0.7" fill="#fff"/>
<circle cx="222" cy="425" r="0.7" fill="#fff"/>
<circle cx="222" cy="428.5" r="0.7" fill="#fff"/>
<path d="M241.50 425.20 C241.70 425.67 242.32 427.03 242.70 428.00 C243.08 428.97 243.40 430.00 243.80 431.00 C244.20 432.00 244.68 433.00 245.10 434.00 C245.52 435.00 245.90 436.00 246.30 437.00 C246.70 438.00 247.22 439.00 247.50 440.00 C247.78 441.00 247.95 442.00 248.00 443.00 C248.05 444.00 248.13 445.17 247.80 446.00 C247.47 446.83 246.58 447.33 246.00 448.00 C245.42 448.67 244.75 449.33 244.30 450.00 C243.85 450.67 243.57 451.00 243.30 452.00 C243.03 453.00 243.00 454.75 242.70 456.00 C242.40 457.25 241.70 458.92 241.50 459.50 C241.30 458.92 240.60 457.25 240.30 456.00 C240.00 454.75 239.97 453.00 239.70 452.00 C239.43 451.00 239.15 450.67 238.70 450.00 C238.25 449.33 237.58 448.67 237.00 448.00 C236.42 447.33 235.53 446.83 235.20 446.00 C234.87 445.17 234.95 444.00 235.00 443.00 C235.05 442.00 235.22 441.00 235.50 440.00 C235.78 439.00 236.30 438.00 236.70 437.00 C237.10 436.00 237.48 435.00 237.90 434.00 C238.32 433.00 238.80 432.00 239.20 431.00 C239.60 430.00 239.92 428.97 240.30 428.00 C240.68 427.03 241.30 425.67 241.50 425.20 Z" stroke="#555" fill="#a8a8a8" stroke-width="1.0" stroke-linejoin="round"/>
<line x1="235" y1="433" x2="248" y2="433" stroke="#e8e8e8" stroke-width="0.5" stroke-dasharray="1.2 1.5"/>
<line x1="235" y1="435" x2="248" y2="435" stroke="#e8e8e8" stroke-width="0.5" stroke-dasharray="1.2 1.5"/>
<line x1="235" y1="437" x2="248" y2="437" stroke="#e8e8e8" stroke-width="0.5" stroke-dasharray="1.2 1.5"/>
<line x1="235" y1="439" x2="248" y2="439" stroke="#e8e8e8" stroke-width="0.5" stroke-dasharray="1.2 1.5"/>
<line x1="235" y1="441" x2="248" y2="441" stroke="#e8e8e8" stroke-width="0.5" stroke-dasharray="1.2 1.5"/>
<line x1="235" y1="443" x2="248" y2="443" stroke="#e8e8e8" stroke-width="0.5" stroke-dasharray="1.2 1.5"/>
<line x1="235" y1="445" x2="248" y2="445" stroke="#e8e8e8" stroke-width="0.5" stroke-dasharray="1.2 1.5"/>
<line x1="235" y1="447" x2="248" y2="447" stroke="#e8e8e8" stroke-width="0.5" stroke-dasharray="1.2 1.5"/>
<line x1="235" y1="449" x2="248" y2="449" stroke="#e8e8e8" stroke-width="0.5" stroke-dasharray="1.2 1.5"/>
<line x1="241.5" y1="428" x2="241.5" y2="458" stroke="#888" stroke-width="0.8"/>
<path d="M261.00 396.60 C261.33 396.92 262.45 397.77 263.00 398.50 C263.55 399.23 263.88 400.17 264.30 401.00 C264.72 401.83 265.28 402.65 265.50 403.50 C265.72 404.35 265.68 405.18 265.60 406.10 C265.52 407.02 265.13 408.02 265.00 409.00 C264.87 409.98 264.55 411.08 264.80 412.00 C265.05 412.92 266.03 413.77 266.50 414.50 C266.97 415.23 267.60 415.65 267.60 416.40 C267.60 417.15 266.85 418.15 266.50 419.00 C266.15 419.85 265.68 420.60 265.50 421.50 C265.32 422.40 265.65 423.60 265.40 424.40 C265.15 425.20 264.40 425.68 264.00 426.30 C263.60 426.92 263.33 427.32 263.00 428.10 C262.67 428.88 262.33 430.15 262.00 431.00 C261.67 431.85 261.17 432.83 261.00 433.20 C260.83 432.83 260.33 431.85 260.00 431.00 C259.67 430.15 259.33 428.88 259.00 428.10 C258.67 427.32 258.40 426.92 258.00 426.30 C257.60 425.68 256.85 425.20 256.60 424.40 C256.35 423.60 256.68 422.40 256.50 421.50 C256.32 420.60 255.85 419.85 255.50 419.00 C255.15 418.15 254.40 417.15 254.40 416.40 C254.40 415.65 255.03 415.23 255.50 414.50 C255.97 413.77 256.95 412.92 257.20 412.00 C257.45 411.08 257.13 409.98 257.00 409.00 C256.87 408.02 256.48 407.02 256.40 406.10 C256.32 405.18 256.28 404.35 256.50 403.50 C256.72 402.65 257.28 401.83 257.70 401.00 C258.12 400.17 258.45 399.23 259.00 398.50 C259.55 397.77 260.67 396.92 261.00 396.60 Z" stroke="#000" fill="#fff" stroke-width="1.0" stroke-linejoin="round"/>
<circle cx="259.5" cy="403" r="1.25" fill="#0000ff"/>
<circle cx="262.5" cy="404.5" r="1.25" fill="#0000ff"/>
<circle cx="258.5" cy="407.5" r="1.25" fill="#0000ff"/>
<circle cx="263" cy="408" r="1.25" fill="#0000ff"/>
<circle cx="261" cy="411" r="1.25" fill="#0000ff"/>
<circle cx="258.5" cy="416" r="1.25" fill="#0000ff"/>
<circle cx="263.5" cy="416.5" r="1.25" fill="#0000ff"/>
<circle cx="261" cy="418.5" r="1.25" fill="#0000ff"/>
<circle cx="259" cy="424" r="1.25" fill="#0000ff"/>
<circle cx="263" cy="424.5" r="1.25" fill="#0000ff"/>
<path d="M280.80 428.80 C281.13 429.13 282.27 430.18 282.80 430.80 C283.33 431.42 283.58 431.88 284.00 432.50 C284.42 433.12 285.00 433.77 285.30 434.50 C285.60 435.23 285.85 436.18 285.80 436.90 C285.75 437.62 285.12 438.20 285.00 438.80 C284.88 439.40 284.83 439.92 285.10 440.50 C285.37 441.08 286.22 441.68 286.60 442.30 C286.98 442.92 287.50 443.50 287.40 444.20 C287.30 444.90 286.47 445.78 286.00 446.50 C285.53 447.22 284.97 447.90 284.60 448.50 C284.23 449.10 284.10 449.43 283.80 450.10 C283.50 450.77 283.30 451.53 282.80 452.50 C282.30 453.47 281.13 455.33 280.80 455.90 C280.47 455.33 279.30 453.47 278.80 452.50 C278.30 451.53 278.10 450.77 277.80 450.10 C277.50 449.43 277.37 449.10 277.00 448.50 C276.63 447.90 276.07 447.22 275.60 446.50 C275.13 445.78 274.30 444.90 274.20 444.20 C274.10 443.50 274.62 442.92 275.00 442.30 C275.38 441.68 276.23 441.08 276.50 440.50 C276.77 439.92 276.72 439.40 276.60 438.80 C276.48 438.20 275.85 437.62 275.80 436.90 C275.75 436.18 276.00 435.23 276.30 434.50 C276.60 433.77 277.18 433.12 277.60 432.50 C278.02 431.88 278.27 431.42 278.80 430.80 C279.33 430.18 280.47 429.13 280.80 428.80 Z" stroke="#6a6aff" fill="#7878ff" stroke-width="1.0" stroke-linejoin="round"/>
<line x1="275" y1="437" x2="286.5" y2="437" stroke="#fff" stroke-width="0.6" stroke-dasharray="1.2 1"/>
<line x1="275" y1="441" x2="286.5" y2="441" stroke="#fff" stroke-width="0.6" stroke-dasharray="1.2 1"/>
<line x1="275" y1="444.5" x2="286.5" y2="444.5" stroke="#fff" stroke-width="0.6" stroke-dasharray="1.2 1"/>
<path d="M222.2 392.9 V385.6 H241.5 V420.8" stroke="#222" fill="none" stroke-width="1.1"/>
<path d="M261.0 391.5 V385.6 H280.8 V423.0" stroke="#222" fill="none" stroke-width="1.1"/>
<text x="231.8" y="386.2" font-size="11" text-anchor="middle" fill="#000" letter-spacing="1.1" font-weight="bold">****</text>
<text x="270.9" y="386.2" font-size="11" text-anchor="middle" fill="#000" letter-spacing="1.1" font-weight="bold">****</text>
<text x="228.5" y="483.6" font-size="10.5" text-anchor="end" transform="rotate(-45 228.5 483.6)">697<tspan font-size="5.9" font-style="italic" dy="-3.7">WT</tspan></text>
<text x="248.4" y="483.6" font-size="10.5" text-anchor="end" transform="rotate(-45 248.4 483.6)">697<tspan font-size="5.9" font-style="italic" dy="-3.7">WT-Res</tspan></text>
<text x="267.8" y="483.6" font-size="10.5" text-anchor="end" transform="rotate(-45 267.8 483.6)">697<tspan font-size="5.9" font-style="italic" dy="-3.7">KI</tspan></text>
<text x="287.6" y="483.6" font-size="10.5" text-anchor="end" transform="rotate(-45 287.6 483.6)">697<tspan font-size="5.9" font-style="italic" dy="-3.7">KI-Res</tspan></text>
<text x="434.4" y="367.3" font-size="10.1" text-anchor="middle" font-weight="bold" fill="#000">Glycolytic capacity</text>
<line x1="400.5" y1="386.3" x2="400.5" y2="470.5" stroke="#000" stroke-width="1.2"/>
<line x1="399.9" y1="470.5" x2="485.6" y2="470.5" stroke="#000" stroke-width="1.2"/>
<line x1="397.0" y1="470.5" x2="400.5" y2="470.5" stroke="#000" stroke-width="1.1"/>
<text x="395.5" y="473.6" font-size="8.6" text-anchor="end" fill="#111">0.0</text>
<line x1="397.0" y1="449.575" x2="400.5" y2="449.575" stroke="#000" stroke-width="1.1"/>
<text x="395.5" y="452.675" font-size="8.6" text-anchor="end" fill="#111">0.5</text>
<line x1="397.0" y1="428.65" x2="400.5" y2="428.65" stroke="#000" stroke-width="1.1"/>
<text x="395.5" y="431.75" font-size="8.6" text-anchor="end" fill="#111">1.0</text>
<line x1="397.0" y1="407.725" x2="400.5" y2="407.725" stroke="#000" stroke-width="1.1"/>
<text x="395.5" y="410.82500000000005" font-size="8.6" text-anchor="end" fill="#111">1.5</text>
<line x1="397.0" y1="386.8" x2="400.5" y2="386.8" stroke="#000" stroke-width="1.1"/>
<text x="395.5" y="389.90000000000003" font-size="8.6" text-anchor="end" fill="#111">2.0</text>
<line x1="413.6" y1="470.5" x2="413.6" y2="474.1" stroke="#000" stroke-width="1.1"/>
<line x1="432.9" y1="470.5" x2="432.9" y2="474.1" stroke="#000" stroke-width="1.1"/>
<line x1="452.4" y1="470.5" x2="452.4" y2="474.1" stroke="#000" stroke-width="1.1"/>
<line x1="471.6" y1="470.5" x2="471.6" y2="474.1" stroke="#000" stroke-width="1.1"/>
<text x="367.2" y="429.0" font-size="10.2" text-anchor="middle" fill="#000" transform="rotate(-90 367.2 429.0)">ECAR (mpH/min)</text>
<text x="376.9" y="427.2" font-size="10.2" text-anchor="middle" fill="#000" transform="rotate(-90 376.9 427.2)">Normalized to parental</text>
<path d="M413.60 423.30 C414.02 423.58 415.35 424.38 416.10 425.00 C416.85 425.62 417.35 426.32 418.10 427.00 C418.85 427.68 420.52 428.47 420.60 429.10 C420.68 429.73 419.77 430.28 418.60 430.80 C417.43 431.32 414.43 431.97 413.60 432.20 C412.77 431.97 409.77 431.32 408.60 430.80 C407.43 430.28 406.52 429.73 406.60 429.10 C406.68 428.47 408.35 427.68 409.10 427.00 C409.85 426.32 410.35 425.62 411.10 425.00 C411.85 424.38 413.18 423.58 413.60 423.30 Z" stroke="#000" fill="#000" stroke-width="1.0" stroke-linejoin="round"/>
<path d="M432.90 409.30 C433.07 409.67 433.48 410.80 433.90 411.50 C434.32 412.20 434.87 412.83 435.40 413.50 C435.93 414.17 436.68 414.83 437.10 415.50 C437.52 416.17 437.97 416.83 437.90 417.50 C437.83 418.17 437.03 418.92 436.70 419.50 C436.37 420.08 435.62 420.50 435.90 421.00 C436.18 421.50 437.77 421.97 438.40 422.50 C439.03 423.03 439.78 423.62 439.70 424.20 C439.62 424.78 438.62 425.37 437.90 426.00 C437.18 426.63 436.03 427.25 435.40 428.00 C434.77 428.75 434.52 429.70 434.10 430.50 C433.68 431.30 433.10 432.42 432.90 432.80 C432.70 432.42 432.12 431.30 431.70 430.50 C431.28 429.70 431.03 428.75 430.40 428.00 C429.77 427.25 428.62 426.63 427.90 426.00 C427.18 425.37 426.18 424.78 426.10 424.20 C426.02 423.62 426.77 423.03 427.40 422.50 C428.03 421.97 429.62 421.50 429.90 421.00 C430.18 420.50 429.43 420.08 429.10 419.50 C428.77 418.92 427.97 418.17 427.90 417.50 C427.83 416.83 428.28 416.17 428.70 415.50 C429.12 414.83 429.87 414.17 430.40 413.50 C430.93 412.83 431.48 412.20 431.90 411.50 C432.32 410.80 432.73 409.67 432.90 409.30 Z" stroke="#555" fill="#6a6a6a" stroke-width="1.0" stroke-linejoin="round"/>
<path d="M452.70 425.40 C453.37 425.58 455.53 426.08 456.70 426.50 C457.87 426.92 459.28 427.43 459.70 427.90 C460.12 428.37 459.87 428.87 459.20 429.30 C458.53 429.73 456.78 430.02 455.70 430.50 C454.62 430.98 453.20 431.92 452.70 432.20 C452.20 431.92 450.78 430.98 449.70 430.50 C448.62 430.02 446.87 429.73 446.20 429.30 C445.53 428.87 445.28 428.37 445.70 427.90 C446.12 427.43 447.53 426.92 448.70 426.50 C449.87 426.08 452.03 425.58 452.70 425.40 Z" stroke="#0000ff" fill="#0000ff" stroke-width="1.0" stroke-linejoin="round"/>
<path d="M472.00 427.90 C472.13 428.12 472.38 428.80 472.80 429.20 C473.22 429.60 474.07 429.92 474.50 430.30 C474.93 430.68 475.28 431.08 475.40 431.50 C475.52 431.92 474.93 432.33 475.20 432.80 C475.47 433.27 476.37 433.57 477.00 434.30 C477.63 435.03 478.80 436.28 479.00 437.20 C479.20 438.12 478.78 439.07 478.20 439.80 C477.62 440.53 476.33 441.10 475.50 441.60 C474.67 442.10 473.78 442.30 473.20 442.80 C472.62 443.30 472.20 444.30 472.00 444.60 C471.80 444.30 471.38 443.30 470.80 442.80 C470.22 442.30 469.33 442.10 468.50 441.60 C467.67 441.10 466.38 440.53 465.80 439.80 C465.22 439.07 464.80 438.12 465.00 437.20 C465.20 436.28 466.37 435.03 467.00 434.30 C467.63 433.57 468.53 433.27 468.80 432.80 C469.07 432.33 468.48 431.92 468.60 431.50 C468.72 431.08 469.07 430.68 469.50 430.30 C469.93 429.92 470.78 429.60 471.20 429.20 C471.62 428.80 471.87 428.12 472.00 427.90 Z" stroke="#6a6aff" fill="#7878ff" stroke-width="1.0" stroke-linejoin="round"/>
<circle cx="410" cy="428.5" r="0.55" fill="#fff"/>
<circle cx="413.6" cy="427.5" r="0.55" fill="#fff"/>
<circle cx="417" cy="429" r="0.55" fill="#fff"/>
<circle cx="411.5" cy="430.5" r="0.55" fill="#fff"/>
<circle cx="415.5" cy="431" r="0.55" fill="#fff"/>
<path d="M413.6 418.6 V400.0 H432.9 V404.3" stroke="#222" fill="none" stroke-width="1.1"/>
<path d="M452.7 421.0 V400.0 H472.0 V423.5" stroke="#222" fill="none" stroke-width="1.1"/>
<text x="423.3" y="400.1" font-size="11" text-anchor="middle" fill="#000" letter-spacing="1.1" font-weight="bold">****</text>
<text x="462.4" y="400.1" font-size="11" text-anchor="middle" fill="#000" letter-spacing="1.1" font-weight="bold">****</text>
<text x="420.2" y="483.7" font-size="10.5" text-anchor="end" transform="rotate(-45 420.2 483.7)">697<tspan font-size="5.9" font-style="italic" dy="-3.7">WT</tspan></text>
<text x="439.5" y="483.7" font-size="10.5" text-anchor="end" transform="rotate(-45 439.5 483.7)">697<tspan font-size="5.9" font-style="italic" dy="-3.7">WT-Res</tspan></text>
<text x="459.0" y="483.7" font-size="10.5" text-anchor="end" transform="rotate(-45 459.0 483.7)">697<tspan font-size="5.9" font-style="italic" dy="-3.7">KI</tspan></text>
<text x="478.2" y="483.7" font-size="10.5" text-anchor="end" transform="rotate(-45 478.2 483.7)">697<tspan font-size="5.9" font-style="italic" dy="-3.7">KI-Res</tspan></text>
</svg>
</body></html>
